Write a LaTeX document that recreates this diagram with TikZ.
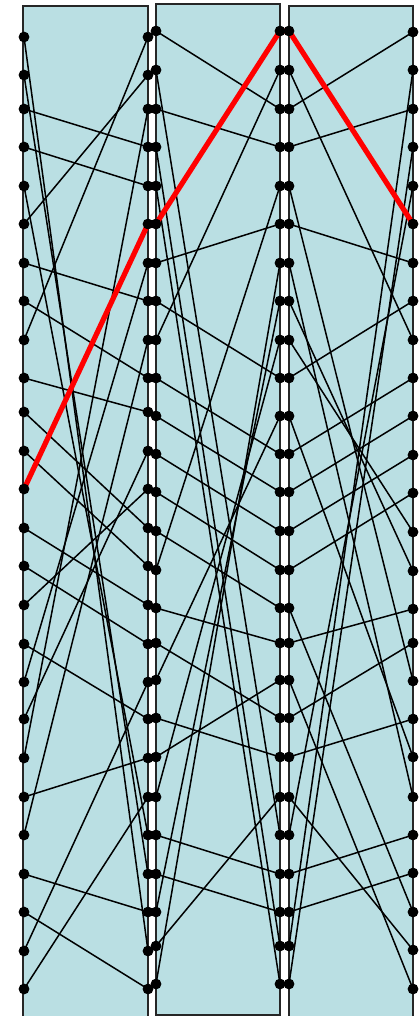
\documentclass[tikz,border=0pt]{standalone}
\usepackage{tikz}
\usetikzlibrary{positioning}
\definecolor{panelfill}{RGB}{186,223,227}
\begin{document}
\begin{tikzpicture}[
  x=0.5pt, y=-0.5pt,
  pnl/.style={draw=black!85, line width=0.8pt, fill=panelfill},
  wire/.style={line width=0.75pt, draw=black},
  hot/.style={line width=2.6pt, draw=red, line cap=round},
  dot/.style={circle, fill=black, inner sep=0pt, minimum size=5.4pt},
]
\useasboundingbox (0,0) rectangle (419,1016);
% ---------------- panels ----------------
\begin{scope}
  \clip (0,0) rectangle (419,1016);
  \draw[pnl] (23,6) rectangle (148,1030);
  \draw[pnl] (156,4) rectangle (280,1015);
  \draw[pnl] (289,6) rectangle (413,1030);
\end{scope}
% ---------------- columns of points (row heights per column group) ----------------
\foreach \i/\ya/\yc/\yf in {0/37/31/32, 1/75/70/70, 2/109/109/109, 3/147/147/147,
    4/186/186/186, 5/224/224/224, 6/263/263/263, 7/301/301/301, 8/340/340/340,
    9/378/378/378, 10/412/416/416, 11/451/454/455, 12/489/492/493, 13/528/531/532,
    14/566/570/571, 15/605/608/609, 16/644/643/643, 17/682/680/681, 18/719/718/719,
    19/758/757/757, 20/797/797/797, 21/835/835/835, 22/874/874/873, 23/912/912/912,
    24/951/946/950, 25/989/984/989} {
  \coordinate (a\i) at (24, \ya);
  \coordinate (b\i) at (148, \ya);
  \coordinate (c\i) at (156, \yc);
  \coordinate (d\i) at (280, \yc);
  \coordinate (e\i) at (289, \yc);
  \coordinate (f\i) at (413, \yf);
}
% ---------------- wiring, panel by panel ----------------
\foreach \i/\j in {0/24,1/22,2/3,3/4,4/21,5/1,6/7,7/9,8/0,9/10,10/13,11/14,12/5,
                   13/15,14/16,15/12,16/18,17/6,18/11,19/2,20/19,21/8,22/23,23/25,24/17,25/20}
  \draw[wire] (a\i) -- (b\j);
\foreach \i/\j in {0/2,1/21,2/3,3/24,4/25,5/0,6/5,7/9,8/1,9/11,10/12,11/13,12/14,
                   13/15,14/4,15/16,16/18,17/10,18/19,19/17,20/8,21/22,22/23,23/7,24/20,25/6}
  \draw[wire] (c\i) -- (d\j);
\foreach \i/\j in {0/5,1/8,2/0,3/2,4/17,5/6,6/20,7/14,8/13,9/7,10/19,11/9,12/10,
                   13/11,14/12,15/23,16/15,17/25,18/16,19/18,20/24,21/4,22/21,23/22,24/1,25/3}
  \draw[wire] (e\i) -- (f\j);
% highlighted path
\draw[hot] (a12) -- (b5) -- (c5) -- (d0) -- (e0) -- (f5);
% ---------------- dots on top ----------------
\foreach \col in {a,b,c,d,e,f}
  \foreach \i in {0,...,25}
    \node[dot] at (\col\i) {};
\end{tikzpicture}
\end{document}
